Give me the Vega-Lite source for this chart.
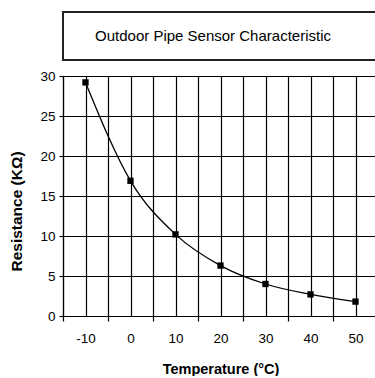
{
  "$schema": "https://vega.github.io/schema/vega-lite/v6.json",
  "padding": {"left": 9, "top": 11, "right": 0, "bottom": 0},
  "spacing": 16,
  "bounds": "flush",
  "config": {
    "font": "Liberation Sans",
    "view": {"stroke": null},
    "axis": {"labelColor": "#000", "titleColor": "#000", "domainColor": "#000", "tickColor": "#000", "gridColor": "#000", "gridOpacity": 1, "gridWidth": 1.2, "domainWidth": 1.2, "tickWidth": 1.2}
  },
  "vconcat": [
    {
      "width": 330,
      "height": 48,
      "data": {"values": [{"label": "Outdoor Pipe Sensor Characteristic"}]},
      "layer": [
        {
          "mark": {"type": "rect", "fill": null, "stroke": "#222", "strokeWidth": 2, "xOffset": -6},
          "encoding": {}
        },
        {
          "mark": {"type": "text", "fontSize": 15, "color": "#000", "dx": -15, "baseline": "middle", "align": "center"},
          "encoding": {"text": {"field": "label"}}
        }
      ]
    },
    {
      "width": 315,
      "height": 240,
      "data": {"values": [
        {"temperature": -10, "resistance": 29.2},
        {"temperature": 0, "resistance": 16.9},
        {"temperature": 10, "resistance": 10.2},
        {"temperature": 20, "resistance": 6.3},
        {"temperature": 30, "resistance": 4.0},
        {"temperature": 40, "resistance": 2.7},
        {"temperature": 50, "resistance": 1.8}
      ]},
      "encoding": {
        "x": {
          "field": "temperature", "type": "quantitative",
          "scale": {"domain": [-15, 55], "nice": false, "zero": false},
          "axis": {
            "title": "Temperature (°C)",
            "values": [-15, -10, -5, 0, 5, 10, 15, 20, 25, 30, 35, 40, 45, 50],
            "grid": true,
            "tickSize": 5,
            "tickOpacity": {"condition": {"test": "abs(datum.value) % 10 == 5", "value": 1}, "value": 0},
            "labelExpr": "abs(datum.value) % 10 == 0 && datum.value <= 50 ? '' + datum.value : ''",
            "labelOverlap": false,
            "labelFlush": false,
            "labelFontSize": 13.5,
            "labelPadding": 10,
            "titleFontSize": 14.5,
            "titleFontWeight": "bold",
            "titlePadding": 18
          }
        },
        "y": {
          "field": "resistance", "type": "quantitative",
          "scale": {"domain": [0, 30], "nice": false},
          "axis": {
            "title": "Resistance (KΩ)",
            "values": [0, 5, 10, 15, 20, 25, 30],
            "grid": true,
            "tickSize": 4,
            "labelPadding": 4,
            "labelFontSize": 13.5,
            "titleFontSize": 15.5,
            "titleFontWeight": "bold",
            "titlePadding": 15,
            "titleY": 135
          }
        }
      },
      "layer": [
        {"mark": {"type": "line", "interpolate": "monotone", "color": "#000", "strokeWidth": 1.3}},
        {"mark": {"type": "point", "shape": "square", "filled": true, "size": 40, "color": "#000", "opacity": 1}}
      ]
    }
  ]
}
